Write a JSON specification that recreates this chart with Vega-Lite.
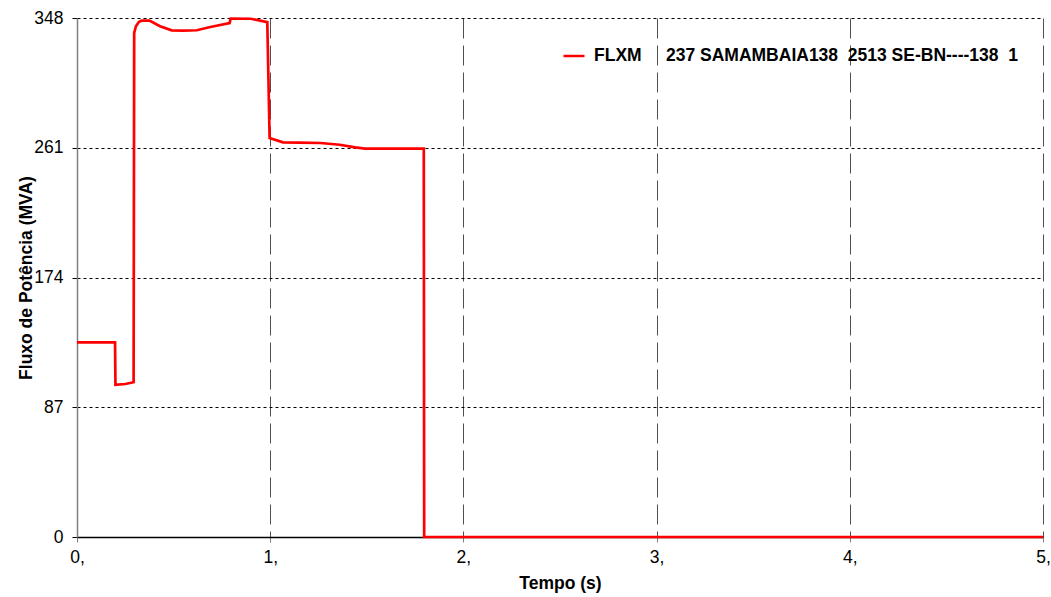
{
  "$schema": "https://vega.github.io/schema/vega-lite/v6.json",
  "width": 966,
  "height": 519,
  "autosize": {"type": "none"},
  "padding": {"left": 77, "top": 18, "right": 8, "bottom": 60},
  "background": "white",
  "config": {
    "font": "Liberation Sans",
    "view": {"stroke": null},
    "axis": {
      "labelFont": "Liberation Sans",
      "labelFontSize": 17.5,
      "labelColor": "#000000",
      "titleFont": "Liberation Sans",
      "titleFontSize": 17.5,
      "titleFontWeight": "bold",
      "titleColor": "#000000"
    }
  },
  "data": {
    "values": [
      {"t": 0, "fluxo": 130.5, "serie": "FLXM\u00a0\u00a0\u00a0\u00a0\u00a0237 SAMAMBAIA138\u00a0\u00a02513 SE-BN----138\u00a0\u00a01"},
      {"t": 0.197, "fluxo": 130.5, "serie": "FLXM\u00a0\u00a0\u00a0\u00a0\u00a0237 SAMAMBAIA138\u00a0\u00a02513 SE-BN----138\u00a0\u00a01"},
      {"t": 0.199, "fluxo": 102, "serie": "FLXM\u00a0\u00a0\u00a0\u00a0\u00a0237 SAMAMBAIA138\u00a0\u00a02513 SE-BN----138\u00a0\u00a01"},
      {"t": 0.25, "fluxo": 102.6, "serie": "FLXM\u00a0\u00a0\u00a0\u00a0\u00a0237 SAMAMBAIA138\u00a0\u00a02513 SE-BN----138\u00a0\u00a01"},
      {"t": 0.293, "fluxo": 103.8, "serie": "FLXM\u00a0\u00a0\u00a0\u00a0\u00a0237 SAMAMBAIA138\u00a0\u00a02513 SE-BN----138\u00a0\u00a01"},
      {"t": 0.296, "fluxo": 338, "serie": "FLXM\u00a0\u00a0\u00a0\u00a0\u00a0237 SAMAMBAIA138\u00a0\u00a02513 SE-BN----138\u00a0\u00a01"},
      {"t": 0.305, "fluxo": 342.5, "serie": "FLXM\u00a0\u00a0\u00a0\u00a0\u00a0237 SAMAMBAIA138\u00a0\u00a02513 SE-BN----138\u00a0\u00a01"},
      {"t": 0.32, "fluxo": 345.3, "serie": "FLXM\u00a0\u00a0\u00a0\u00a0\u00a0237 SAMAMBAIA138\u00a0\u00a02513 SE-BN----138\u00a0\u00a01"},
      {"t": 0.335, "fluxo": 346.3, "serie": "FLXM\u00a0\u00a0\u00a0\u00a0\u00a0237 SAMAMBAIA138\u00a0\u00a02513 SE-BN----138\u00a0\u00a01"},
      {"t": 0.375, "fluxo": 346.3, "serie": "FLXM\u00a0\u00a0\u00a0\u00a0\u00a0237 SAMAMBAIA138\u00a0\u00a02513 SE-BN----138\u00a0\u00a01"},
      {"t": 0.43, "fluxo": 342.5, "serie": "FLXM\u00a0\u00a0\u00a0\u00a0\u00a0237 SAMAMBAIA138\u00a0\u00a02513 SE-BN----138\u00a0\u00a01"},
      {"t": 0.49, "fluxo": 339.7, "serie": "FLXM\u00a0\u00a0\u00a0\u00a0\u00a0237 SAMAMBAIA138\u00a0\u00a02513 SE-BN----138\u00a0\u00a01"},
      {"t": 0.55, "fluxo": 339.5, "serie": "FLXM\u00a0\u00a0\u00a0\u00a0\u00a0237 SAMAMBAIA138\u00a0\u00a02513 SE-BN----138\u00a0\u00a01"},
      {"t": 0.62, "fluxo": 339.8, "serie": "FLXM\u00a0\u00a0\u00a0\u00a0\u00a0237 SAMAMBAIA138\u00a0\u00a02513 SE-BN----138\u00a0\u00a01"},
      {"t": 0.69, "fluxo": 342, "serie": "FLXM\u00a0\u00a0\u00a0\u00a0\u00a0237 SAMAMBAIA138\u00a0\u00a02513 SE-BN----138\u00a0\u00a01"},
      {"t": 0.79, "fluxo": 344.6, "serie": "FLXM\u00a0\u00a0\u00a0\u00a0\u00a0237 SAMAMBAIA138\u00a0\u00a02513 SE-BN----138\u00a0\u00a01"},
      {"t": 0.795, "fluxo": 347.6, "serie": "FLXM\u00a0\u00a0\u00a0\u00a0\u00a0237 SAMAMBAIA138\u00a0\u00a02513 SE-BN----138\u00a0\u00a01"},
      {"t": 0.9, "fluxo": 347.5, "serie": "FLXM\u00a0\u00a0\u00a0\u00a0\u00a0237 SAMAMBAIA138\u00a0\u00a02513 SE-BN----138\u00a0\u00a01"},
      {"t": 0.985, "fluxo": 345.2, "serie": "FLXM\u00a0\u00a0\u00a0\u00a0\u00a0237 SAMAMBAIA138\u00a0\u00a02513 SE-BN----138\u00a0\u00a01"},
      {"t": 0.997, "fluxo": 267.5, "serie": "FLXM\u00a0\u00a0\u00a0\u00a0\u00a0237 SAMAMBAIA138\u00a0\u00a02513 SE-BN----138\u00a0\u00a01"},
      {"t": 1.066, "fluxo": 264.6, "serie": "FLXM\u00a0\u00a0\u00a0\u00a0\u00a0237 SAMAMBAIA138\u00a0\u00a02513 SE-BN----138\u00a0\u00a01"},
      {"t": 1.15, "fluxo": 264.4, "serie": "FLXM\u00a0\u00a0\u00a0\u00a0\u00a0237 SAMAMBAIA138\u00a0\u00a02513 SE-BN----138\u00a0\u00a01"},
      {"t": 1.26, "fluxo": 264.2, "serie": "FLXM\u00a0\u00a0\u00a0\u00a0\u00a0237 SAMAMBAIA138\u00a0\u00a02513 SE-BN----138\u00a0\u00a01"},
      {"t": 1.36, "fluxo": 263, "serie": "FLXM\u00a0\u00a0\u00a0\u00a0\u00a0237 SAMAMBAIA138\u00a0\u00a02513 SE-BN----138\u00a0\u00a01"},
      {"t": 1.44, "fluxo": 261.2, "serie": "FLXM\u00a0\u00a0\u00a0\u00a0\u00a0237 SAMAMBAIA138\u00a0\u00a02513 SE-BN----138\u00a0\u00a01"},
      {"t": 1.49, "fluxo": 260.4, "serie": "FLXM\u00a0\u00a0\u00a0\u00a0\u00a0237 SAMAMBAIA138\u00a0\u00a02513 SE-BN----138\u00a0\u00a01"},
      {"t": 1.795, "fluxo": 260.4, "serie": "FLXM\u00a0\u00a0\u00a0\u00a0\u00a0237 SAMAMBAIA138\u00a0\u00a02513 SE-BN----138\u00a0\u00a01"},
      {"t": 1.797, "fluxo": 0, "serie": "FLXM\u00a0\u00a0\u00a0\u00a0\u00a0237 SAMAMBAIA138\u00a0\u00a02513 SE-BN----138\u00a0\u00a01"},
      {"t": 5, "fluxo": 0, "serie": "FLXM\u00a0\u00a0\u00a0\u00a0\u00a0237 SAMAMBAIA138\u00a0\u00a02513 SE-BN----138\u00a0\u00a01"}
    ]
  },
  "mark": {"type": "line", "strokeWidth": 2.7, "interpolate": "linear"},
  "encoding": {
    "x": {
      "field": "t",
      "type": "quantitative",
      "scale": {"domain": [0, 5], "nice": false, "zero": false},
      "axis": {
        "title": "Tempo (s)",
        "values": [0, 1, 2, 3, 4, 5],
        "labelExpr": "datum.value + ','",
        "labelFlush": false,
        "labelPadding": 6,
        "tickSize": 5,
        "tickColor": "#808080",
        "domainColor": "#000000",
        "domainWidth": 1.5,
        "grid": true,
        "gridColor": "#505050",
        "gridDash": [20, 7],
        "gridWidth": 1,
        "titlePadding": 9
      }
    },
    "y": {
      "field": "fluxo",
      "type": "quantitative",
      "scale": {"domain": [0, 348], "nice": false},
      "axis": {
        "title": "Fluxo de Potência (MVA)",
        "values": [0, 87, 174, 261, 348],
        "labelPadding": 9,
        "tickSize": 5,
        "tickColor": "#000000",
        "domainColor": "#808080",
        "domainWidth": 1.5,
        "grid": true,
        "gridColor": "#000000",
        "gridDash": [3, 3],
        "gridWidth": 1,
        "titlePadding": -2
      }
    },
    "color": {
      "field": "serie",
      "type": "nominal",
      "scale": {"range": ["#ff0000"]},
      "legend": {
        "title": null,
        "orient": "none",
        "legendX": 485,
        "legendY": 26,
        "padding": 0,
        "symbolType": "stroke",
        "symbolSize": 440,
        "symbolStrokeWidth": 2.5,
        "labelFont": "Liberation Sans",
        "labelFontSize": 17.5,
        "labelFontWeight": "bold",
        "labelColor": "#000000",
        "labelOffset": 8,
        "labelLimit": 700
      }
    }
  }
}
